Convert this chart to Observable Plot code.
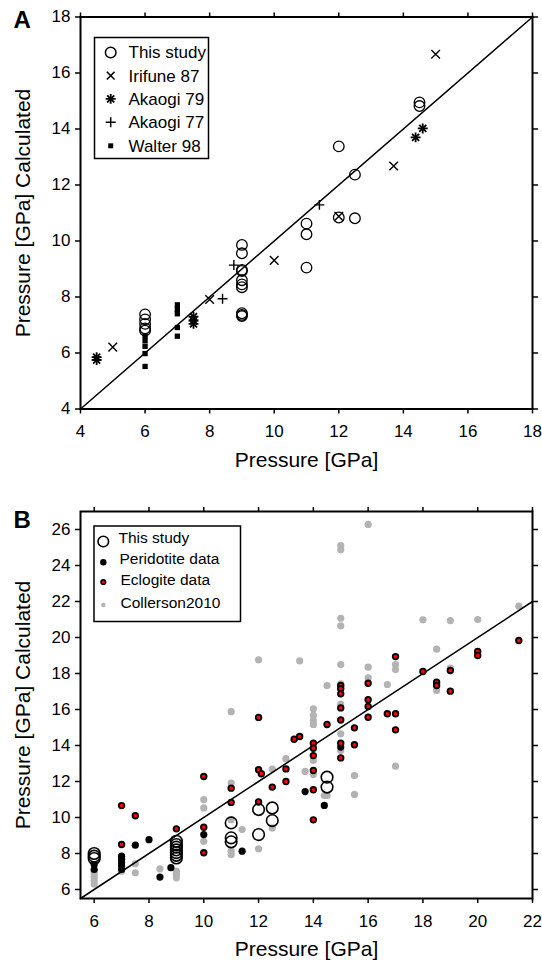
<!DOCTYPE html>
<html><head><meta charset="utf-8">
<script src="https://cdn.jsdelivr.net/npm/d3@7"></script>
<script src="https://cdn.jsdelivr.net/npm/@observablehq/plot@0.6"></script>
<style>
html,body{margin:0;padding:0;background:#fff;}
#chart{width:542px;height:966px;position:relative;}
#chart svg{display:block;}
</style></head><body><div id="chart"></div>
<script>
// ---------- Panel A data ----------
const xTicksA = [4, 6, 8, 10, 12, 14, 16, 18];
const yTicksA = [4, 6, 8, 10, 12, 14, 16, 18];
const diagA = [4, 18];
const thisStudyA = [[6,7.38],[6,7.2],[6,7.04],[6,6.88],[6,6.8],[9,9.86],[9,9.56],[9,8.97],[9,8.93],[9,8.6],[9,8.45],[9,8.35],[9,7.42],[9,7.36],[9,7.32],[11,10.62],[11,10.24],[11,9.05],[12,13.38],[12,10.84],[12.5,12.37],[12.5,10.81],[14.5,14.95],[14.5,14.82]];
const irifune87 = [[5,6.21],[8,7.91],[10,9.31],[12,10.88],[13.7,12.68],[15,16.67]];
const akaogi79 = [[4.5,5.85],[4.5,5.75],[7.5,7.3],[7.5,7.16],[7.5,7.04],[14.38,13.7],[14.6,14.02]];
const akaogi77 = [[8.4,7.94],[8.75,9.14],[11.4,11.29]];
const walter98 = [[6,6.62],[6,6.44],[6,6.24],[6,5.98],[6,5.52],[7,7.72],[7,7.56],[7,7.4],[7,6.91],[7,6.6]];
const legendA = ["This study", "Irifune 87", "Akaogi 79", "Akaogi 77", "Walter 98"];

// ---------- Panel B data ----------
const xTicksB = [6, 8, 10, 12, 14, 16, 18, 20, 22];
const yTicksB = [6, 8, 10, 12, 14, 16, 18, 20, 22, 24, 26];
const diagB = [5.5, 22];
const collerson2010 = [[6,7.02],[6,6.85],[6,6.68],[6,6.5],[6,6.3],[7,7.02],[7.5,7.43],[7.5,6.93],[8.4,7.15],[9,8.22],[9,7.02],[9,6.84],[9,6.65],[10,10.99],[10,10.53],[10,8.68],[11,15.88],[11,11.91],[11,9.88],[11,8.13],[11,7.94],[11.4,9.33],[12,18.76],[12,8.26],[12.5,12.69],[12.5,9.42],[13,13.27],[13.5,18.7],[13.7,12.56],[14,16.04],[14,15.67],[14,15.39],[14,15.17],[14,13.17],[14,12.39],[14.4,11.22],[14.5,17.33],[14.5,11.22],[15,25.11],[15,24.87],[15,21.07],[15,20.65],[15,18.5],[15,17.43],[15,16.3],[15,14.65],[15,13.72],[15.5,12.33],[15.5,11.28],[16,26.28],[16,18.35],[16,17.76],[16.7,17.39],[17,18.5],[17,18.22],[17,12.85],[18,20.98],[18.5,19.35],[18.5,17.06],[19,20.94],[19,18.3],[20,21.0],[21.5,21.74]];
const peridotite = [[6,7.39],[6,7.11],[7,7.85],[7,7.67],[7,7.48],[7,7.3],[7,7.11],[7.5,8.46],[8,8.77],[8.4,6.69],[8.8,7.21],[10,9.05],[11.4,8.13],[13.7,11.44],[14.4,10.67],[15,13.91]];
const eclogite = [[7,10.66],[7,8.5],[7.5,10.1],[9,9.37],[10,12.28],[10,9.46],[10,8.04],[11,11.63],[11,10.84],[12,15.56],[12,12.65],[12,10.86],[12.1,12.43],[12.5,11.69],[13,12.7],[13,12.0],[13.3,14.35],[13.5,14.5],[14,14.13],[14,13.85],[14,13.44],[14,12.61],[14,11.54],[14,9.87],[14.5,15.17],[15,17.33],[15,17.15],[15,16.87],[15,16.09],[15,15.42],[15,14.13],[15,13.31],[15.5,14.98],[15.5,14.04],[16,17.46],[16,16.54],[16,16.17],[16,15.57],[16.7,15.76],[17,18.94],[17,15.76],[17,14.87],[18,18.11],[18.5,17.52],[18.5,17.33],[19,18.17],[19,17.02],[20,19.22],[20,19.0],[21.5,19.83]];
const thisStudyB = [[6,8.0],[6,7.85],[6,7.72],[9,8.68],[9,8.5],[9,8.35],[9,8.2],[9,8.05],[9,7.9],[9,7.75],[11,9.7],[11,8.87],[11,8.65],[12,10.44],[12,9.05],[12.5,10.53],[12.5,9.83],[14.5,12.24],[14.5,11.69]];
const legendB = ["This study", "Peridotite data", "Eclogite data", "Collerson2010"];

const FONT = "'Liberation Sans', Arial, Helvetica, sans-serif";
const X = d => d[0], Y = d => d[1];
const RED = "#ff0000", GRAY = "#b3b3b3";
const title = "Pressure [GPa]";
const ytitle = "Pressure [GPa] Calculated";

function axes(xt, yt) {
  return [
    Plot.axisX({anchor: "bottom", ticks: xt, tickSize: 5, tickPadding: 11, strokeWidth: 1.5, label: null}),
    Plot.axisX({anchor: "top", ticks: xt, tickSize: 5, strokeWidth: 1.5, tickFormat: () => "", label: null}),
    Plot.axisY({anchor: "left", ticks: yt, tickSize: 5, tickPadding: 5, strokeWidth: 1.5, label: null}),
    Plot.axisY({anchor: "right", ticks: yt, tickSize: 5, strokeWidth: 1.5, tickFormat: () => "", label: null})
  ];
}

const plotA = Plot.plot({
  width: 542, height: 483,
  marginLeft: 80, marginRight: 10, marginTop: 16.5, marginBottom: 74.5,
  style: {fontFamily: FONT, fontSize: "17px", color: "black", background: "white", overflow: "visible"},
  x: {domain: [4, 18]},
  y: {domain: [4, 18]},
  marks: [
    ...axes(xTicksA, yTicksA),
    Plot.line(diagA, {x: d => d, y: d => d, stroke: "black", strokeWidth: 1.5}),
    Plot.dot(walter98, {x: X, y: Y, symbol: "square", fill: "black", r: 3.0}),
    Plot.dot(akaogi79, {x: X, y: Y, symbol: "plus", stroke: "black", strokeWidth: 1.8, r: 3.3}),
    Plot.dot(akaogi79, {x: X, y: Y, symbol: "times", stroke: "black", strokeWidth: 1.8, r: 3.3}),
    Plot.dot(akaogi77, {x: X, y: Y, symbol: "plus", stroke: "black", strokeWidth: 1.4, r: 3.3}),
    Plot.dot(irifune87, {x: X, y: Y, symbol: "times", stroke: "black", strokeWidth: 1.4, r: 4}),
    Plot.dot(thisStudyA, {x: X, y: Y, r: 5.3, stroke: "black", fill: "none", strokeWidth: 1.3}),
    Plot.frame({stroke: "black", strokeWidth: 2}),
    Plot.text([title], {frameAnchor: "bottom", dy: 58, fontSize: 21}),
    Plot.text([ytitle], {frameAnchor: "left", dx: -57, rotate: -90, textAnchor: "middle", fontSize: 21}),
    Plot.text(["A"], {frameAnchor: "top-left", dx: -67, dy: 11, textAnchor: "start", lineAnchor: "bottom", fontSize: 24, fontWeight: "bold"})
  ]
});

const plotB = Plot.plot({
  width: 542, height: 483,
  marginLeft: 80, marginRight: 10, marginTop: 28, marginBottom: 68,
  style: {fontFamily: FONT, fontSize: "17px", color: "black", background: "white", overflow: "visible"},
  x: {domain: [5.5, 22]},
  y: {domain: [5.5, 27]},
  marks: [
    ...axes(xTicksB, yTicksB),
    Plot.dot(collerson2010, {x: X, y: Y, r: 3.6, fill: GRAY}),
    Plot.line(diagB, {x: d => d, y: d => d, stroke: "black", strokeWidth: 1.5}),
    Plot.dot(peridotite, {x: X, y: Y, r: 3.6, fill: "black"}),
    Plot.dot(eclogite, {x: X, y: Y, r: 2.8, fill: RED, stroke: "black", strokeWidth: 1.8}),
    Plot.dot(thisStudyB, {x: X, y: Y, r: 5.8, fill: "none", stroke: "black", strokeWidth: 1.6}),
    Plot.frame({stroke: "black", strokeWidth: 2}),
    Plot.text([title], {frameAnchor: "bottom", dy: 57, fontSize: 21}),
    Plot.text([ytitle], {frameAnchor: "left", dx: -57, rotate: -90, textAnchor: "middle", fontSize: 21}),
    Plot.text(["B"], {frameAnchor: "top-left", dx: -67, dy: 16, textAnchor: "start", lineAnchor: "bottom", fontSize: 24, fontWeight: "bold"})
  ]
});

const chart = document.getElementById("chart");
chart.appendChild(plotA);
chart.appendChild(plotB);

// ---------- Legends ----------
function sym(g, type, cx, cy, opts) {
  const s = d3.symbol().type(type).size(Math.PI * opts.r * opts.r);
  g.append("path").attr("d", s()).attr("transform", `translate(${cx},${cy})`)
    .attr("fill", opts.fill || "none").attr("stroke", opts.stroke || "none")
    .attr("stroke-width", opts.sw || 0);
}
{
  const svg = d3.select(plotA);
  const g = svg.append("g").attr("font-family", FONT).attr("text-anchor", "start");
  g.append("rect").attr("x", 94.5).attr("y", 37.5).attr("width", 114).attr("height", 121)
    .attr("fill", "white").attr("stroke", "black").attr("stroke-width", 1.5);
  const ys = [52.5, 75.6, 98.9, 122.3, 145.8];
  sym(g, d3.symbolCircle, 110.7, ys[0], {r: 5.3, stroke: "black", sw: 1.5});
  sym(g, d3.symbolTimes, 110.7, ys[1], {r: 3.6, stroke: "black", sw: 1.6});
  sym(g, d3.symbolPlus, 110.7, ys[2], {r: 3.3, stroke: "black", sw: 1.8});
  sym(g, d3.symbolTimes, 110.7, ys[2], {r: 3.3, stroke: "black", sw: 1.8});
  sym(g, d3.symbolPlus, 110.7, ys[3], {r: 3.3, stroke: "black", sw: 1.5});
  sym(g, d3.symbolSquare, 110.7, ys[4], {r: 2.8, fill: "black"});
  legendA.forEach((t, i) => g.append("text").attr("x", 128.5).attr("y", ys[i]).attr("dy", "0.35em")
    .attr("text-anchor", "start").attr("font-size", 17).text(t));
}
{
  const svg = d3.select(plotB);
  const g = svg.append("g").attr("font-family", FONT).attr("text-anchor", "start").attr("transform", "translate(0,-483)");
  g.append("rect").attr("x", 94).attr("y", 526).attr("width", 146.5).attr("height", 95.5)
    .attr("fill", "white").attr("stroke", "black").attr("stroke-width", 1.5);
  const ys = [540, 560.8, 582, 605];
  const tx = [118.5, 119.5, 120.5, 120.5];
  sym(g, d3.symbolCircle, 103.3, ys[0] + 1.5, {r: 5.3, stroke: "black", sw: 1.6});
  sym(g, d3.symbolCircle, 103.3, ys[1] + 1.5, {r: 3.2, fill: "black"});
  sym(g, d3.symbolCircle, 103.3, ys[2], {r: 2.3, fill: RED, stroke: "black", sw: 1.6});
  sym(g, d3.symbolCircle, 103.3, ys[3], {r: 2.2, fill: GRAY});
  legendB.forEach((t, i) => g.append("text").attr("x", tx[i]).attr("y", ys[i] - 2).attr("dy", "0.35em")
    .attr("text-anchor", "start").attr("font-size", 15.5).text(t));
}
</script></body></html>
